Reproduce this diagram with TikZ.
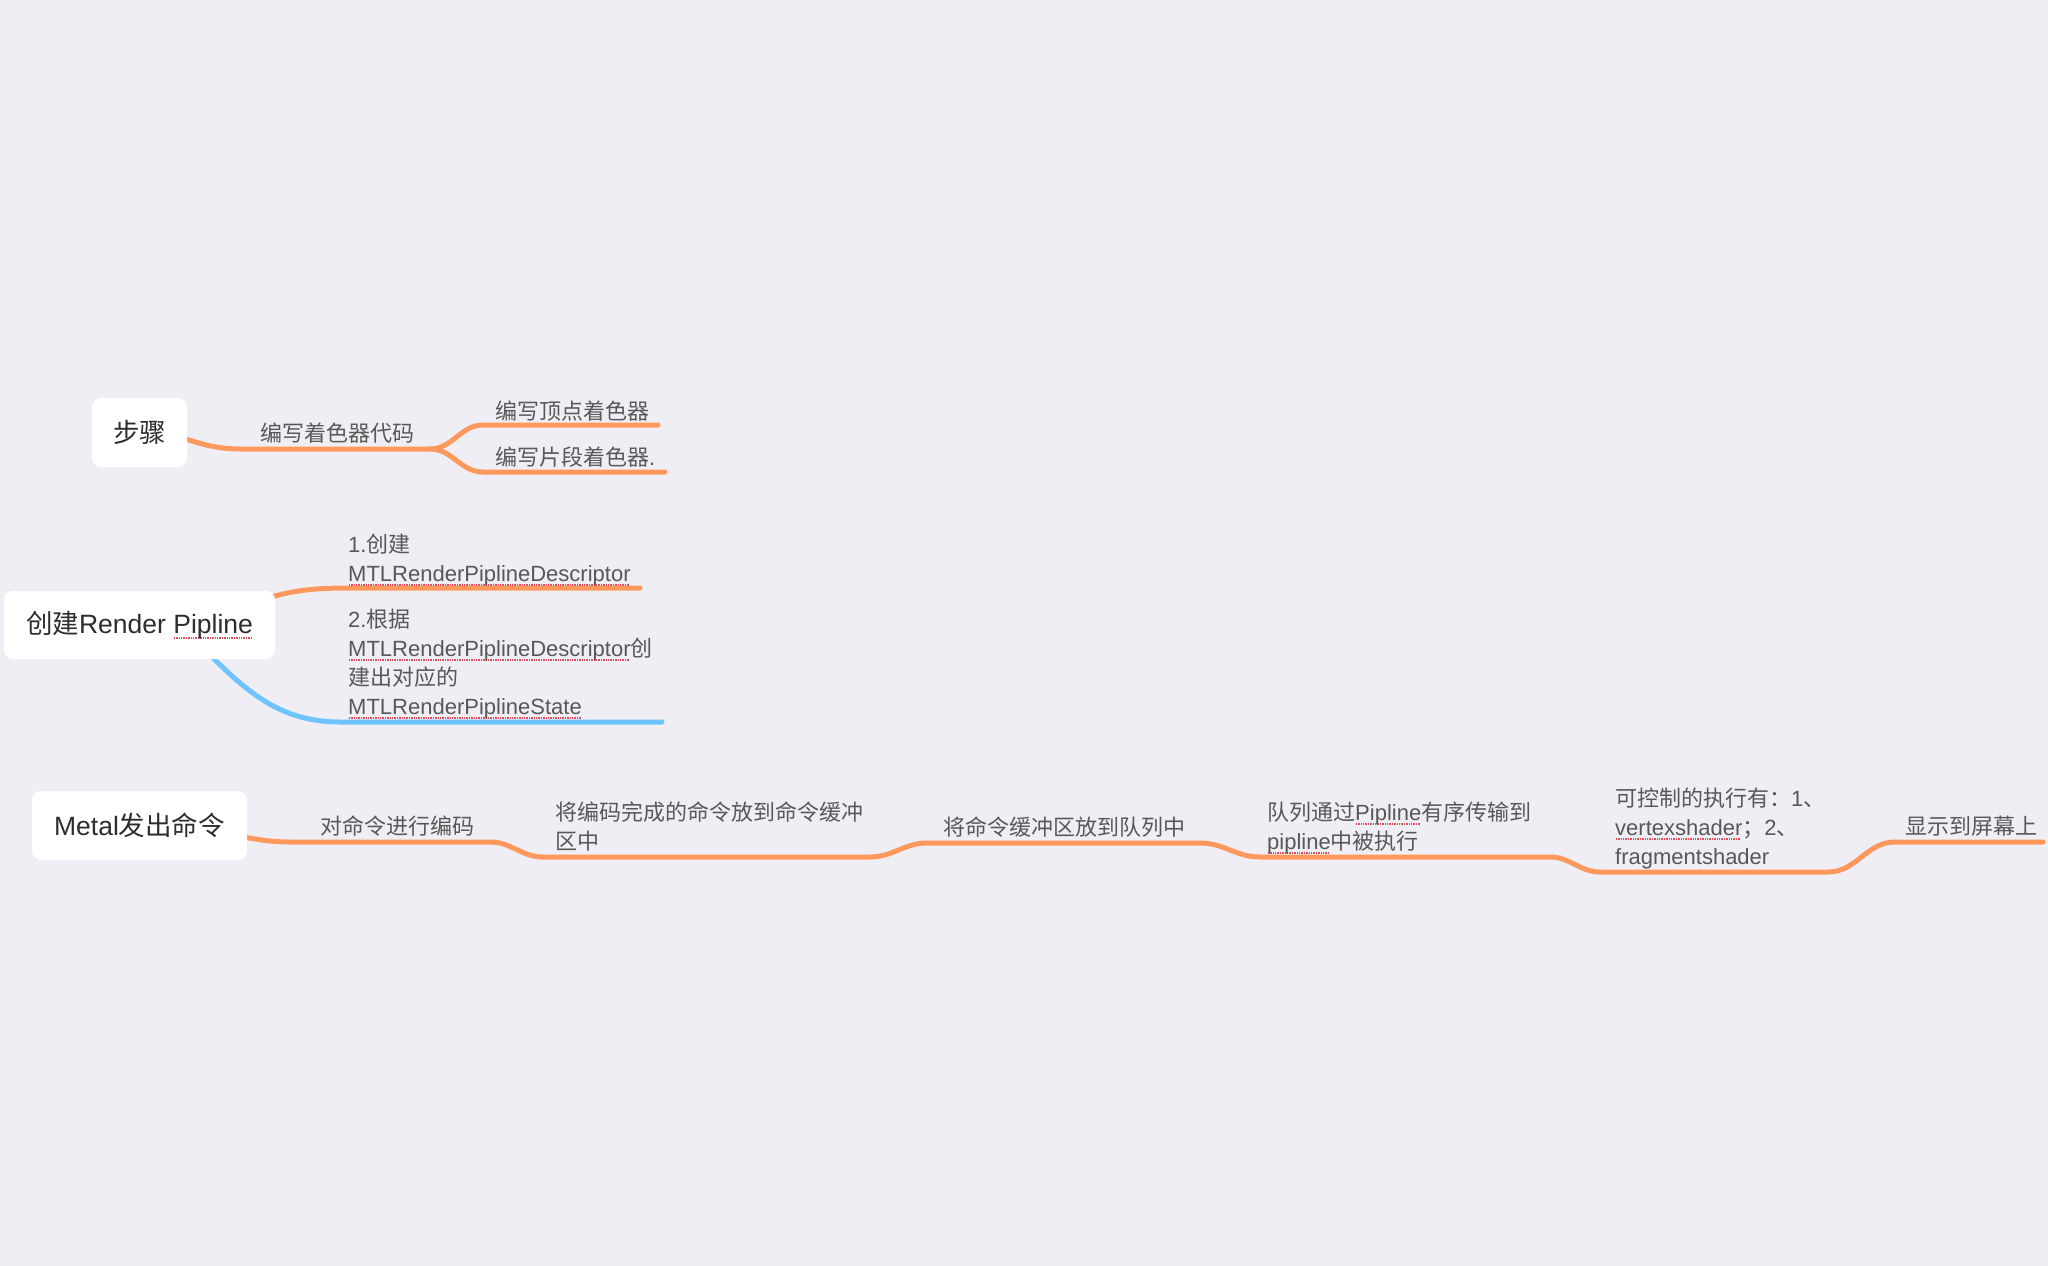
\documentclass[tikz,border=0pt]{standalone}
\usepackage{fontspec}
\setmainfont{Noto Sans CJK SC}
\newfontfamily\lat{Liberation Sans}
\definecolor{bg}{RGB}{239,238,244}
\definecolor{org}{RGB}{255,152,92}
\definecolor{sky}{RGB}{110,196,255}
\definecolor{rootc}{RGB}{45,45,45}
\definecolor{labc}{RGB}{88,88,88}
\definecolor{spellc}{RGB}{222,80,92}
\newcommand\spell[1]{\setbox0\hbox{#1}\rlap{\color{spellc}\leaders\hbox to 2.4pt{\hss\rule[-5.2pt]{1.4pt}{2pt}\hss}\hskip\wd0}\box0}
\tikzset{
  root/.style={fill=white, rounded corners=9pt, inner sep=0pt, text=rootc, font=\fontsize{26.5}{30}\selectfont},
  lab/.style={text=labc, font=\fontsize{22}{29}\selectfont, inner sep=0pt, anchor=base west},
  branch/.style={draw=org, line width=5pt, line cap=round, line join=round},
  bluebranch/.style={branch, draw=sky}
}
\begin{document}
\begin{tikzpicture}[x=1pt,y=-1pt]
\fill[bg] (0,0) rectangle (2048,1266);
\useasboundingbox (0,0) rectangle (2048,1266);

% ---- group 1: 步骤
\coordinate (s0) at (165,433);
\coordinate (s1) at (240,449);
\coordinate (s2) at (430,449);
\coordinate (s3a) at (483,425);
\coordinate (s3b) at (658,425);
\coordinate (s4a) at (483,472);
\coordinate (s4b) at (665,472);
\draw[branch] (s0) to[out=-15,in=180] (s1) -- (s2);
\draw[branch] (s2) to[out=0,in=180] (s3a) -- (s3b);
\draw[branch] (s2) to[out=0,in=180] (s4a) -- (s4b);

% ---- group 2: 创建Render Pipline
\coordinate (p0) at (250,604);
\coordinate (p1) at (350,588);
\coordinate (p2) at (640,588);
\coordinate (q0) at (195,640);
\coordinate (q1) at (340,722);
\coordinate (q2) at (662,722);
\draw[branch] (p0) to[out=20,in=180] (p1) -- (p2);
\draw[bluebranch] (q0) to[out=-45,in=180] (q1) -- (q2);

% ---- group 3: Metal发出命令
\coordinate (m0) at (225,834);
\coordinate (m1) at (290,842);
\coordinate (m2) at (490,842);
\coordinate (m3) at (543,857);
\coordinate (m4) at (870,857);
\coordinate (m5) at (927,843);
\coordinate (m6) at (1200,843);
\coordinate (m7) at (1260,857);
\coordinate (m8) at (1550,857);
\coordinate (m9) at (1600,872);
\coordinate (m10) at (1828,872);
\coordinate (m11) at (1895,842);
\coordinate (m12) at (2043,842);
\draw[branch] (m0) to[out=-8,in=180] (m1) -- (m2) to[out=0,in=180] (m3) -- (m4)
  to[out=0,in=180] (m5) -- (m6) to[out=0,in=180] (m7) -- (m8)
  to[out=0,in=180] (m9) -- (m10) to[out=0,in=180] (m11) -- (m12);

% ---- root topics
\node[root, minimum width=95pt, minimum height=69pt] (r1) at (139.5,432.5) {步骤};
\node[root, minimum width=271pt, minimum height=68pt] (r2) at (139.5,625) {创建{\lat Render \spell{Pipline}}};
\node[root, minimum width=215pt, minimum height=69pt] (r3) at (139.5,825.5) {{\lat Metal}发出命令};

% ---- labels
\node[lab] (t11) at (260,441) {编写着色器代码};
\node[lab] (t12) at (495,419) {编写顶点着色器};
\node[lab] (t13) at (495,465) {编写片段着色器{\lat .}};
\node[lab] (t21) at (348,581) {\begin{tabular}[b]{@{}l@{}}{\lat 1.}创建\\{\lat\spell{MTLRenderPiplineDescriptor}}\end{tabular}};
\node[lab] (t22) at (348,714) {\begin{tabular}[b]{@{}l@{}}{\lat 2.}根据\\{\lat\spell{MTLRenderPiplineDescriptor}}创\\建出对应的\\{\lat\spell{MTLRenderPiplineState}}\end{tabular}};
\node[lab] (t31) at (320,834) {对命令进行编码};
\node[lab] (t32) at (555,849) {\begin{tabular}[b]{@{}l@{}}将编码完成的命令放到命令缓冲\\区中\end{tabular}};
\node[lab] (t33) at (943,835) {将命令缓冲区放到队列中};
\node[lab] (t34) at (1267,849) {\begin{tabular}[b]{@{}l@{}}队列通过{\lat\spell{Pipline}}有序传输到\\{\lat\spell{pipline}}中被执行\end{tabular}};
\node[lab] (t35) at (1615,864) {\begin{tabular}[b]{@{}l@{}}可控制的执行有：{\lat 1}、\\{\lat\spell{vertexshader}}；{\lat 2}、\\{\lat fragmentshader}\end{tabular}};
\node[lab] (t36) at (1905,834) {显示到屏幕上};
\end{tikzpicture}
\end{document}
